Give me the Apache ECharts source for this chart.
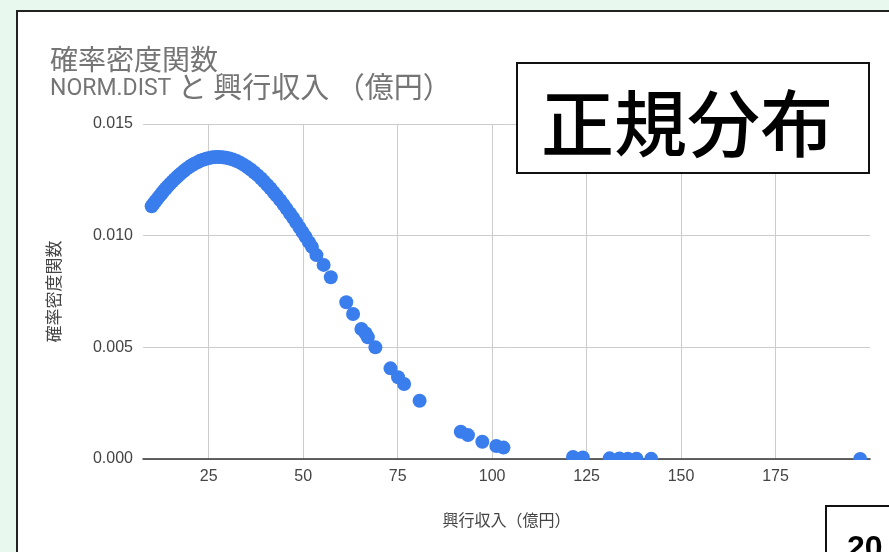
<!DOCTYPE html>
<html>
<head>
<meta charset="utf-8">
<script src="https://cdn.jsdelivr.net/npm/echarts@6/dist/echarts.min.js"></script>
<style>
  html, body { margin: 0; padding: 0; }
  body { width: 889px; height: 552px; background: #e9f8ee; position: relative; overflow: hidden; }
  #sheet { position: absolute; left: 16px; top: 10px; width: 920px; height: 600px;
           background: #fff; border: 2px solid #222; box-sizing: border-box; }
  #chart { position: absolute; left: 0; top: 0; width: 889px; height: 552px; }
</style>
</head>
<body>
<div id="sheet"></div>
<div id="chart"></div>
<script>
// 興行収入（億円）
const revenue = [
  9.9, 10.4, 10.9, 11.5, 12.0, 12.6, 13.1, 13.7, 14.2, 14.8,
  15.4, 16.0, 16.6, 17.2, 17.8, 18.5, 19.1, 19.8, 20.5, 21.2,
  22.0, 22.7, 23.5, 24.3, 25.1, 26.0, 26.9, 27.8, 28.7, 29.6,
  30.5, 31.4, 32.4, 33.3, 34.2, 35.2, 36.1, 37.0, 37.9, 38.8,
  39.6, 40.5, 41.3, 42.2, 43.0, 43.9, 44.8, 45.6, 46.5, 47.3,
  48.1, 49.0, 49.8, 50.6, 51.5, 52.3,
  53.5, 55.4, 57.3, 61.4, 63.2, 65.4, 66.5, 67.1, 69.1, 73.1,
  75.1, 76.7, 80.8, 91.7, 93.6, 97.4, 101.1, 103.0,
  121.4, 124.0, 131.1, 133.7, 135.9, 138.2, 142.1, 197.4
];

// NORM.DIST（確率密度関数）
const density = [
  0.01132, 0.01143, 0.01154, 0.01167, 0.01178, 0.01190, 0.01201, 0.01212, 0.01222, 0.01233,
  0.01243, 0.01253, 0.01263, 0.01272, 0.01281, 0.01291, 0.01299, 0.01307, 0.01315, 0.01322,
  0.01329, 0.01335, 0.01340, 0.01344, 0.01348, 0.01351, 0.01352, 0.01352, 0.01351, 0.01349,
  0.01345, 0.01341, 0.01334, 0.01327, 0.01318, 0.01307, 0.01296, 0.01284, 0.01271, 0.01257,
  0.01243, 0.01227, 0.01212, 0.01194, 0.01178, 0.01159, 0.01139, 0.01120, 0.01099, 0.01080,
  0.01060, 0.01037, 0.01016, 0.00995, 0.00971, 0.00950,
  0.00913, 0.00869, 0.00814, 0.00702, 0.00649, 0.00582, 0.00563, 0.00545, 0.00500, 0.00406,
  0.00366, 0.00336, 0.00261, 0.00122, 0.00107, 0.00077, 0.00058, 0.00051,
  0.00009, 0.00007, 0.00003, 0.00002, 0.000015, 0.00001, 0.000006, 0.0000001
];

const xTicks = [25, 50, 75, 100, 125, 150, 175];

const titleLine1 = '確率密度関数';
const titleLine2Latin = 'NORM.DIST';
const titleLine2Rest = ' と 興行収入 （億円）';
const xName = '興行収入（億円）';
const yName = '確率密度関数';
const badgeText = '正規分布';
const cornerText = '20';

const points = revenue.map((x, i) => [x, density[i]]);

const latin = "'Liberation Sans', Arial, 'Noto Sans CJK JP', sans-serif";
const titleLatin = "Roboto, 'Liberation Sans', Arial, sans-serif";
const cjk = "'Noto Sans CJK JP', 'Liberation Sans', sans-serif";

const chart = echarts.init(document.getElementById('chart'), null, { renderer: 'canvas' });

chart.setOption({
  backgroundColor: 'transparent',
  animation: false,
  title: {
    text: '{c|' + titleLine1 + '}\n{l|' + titleLine2Latin + '}{d|' + titleLine2Rest + '}',
    left: 45,
    top: 40,
    textStyle: {
      color: '#757575', fontWeight: 'normal', lineHeight: 28,
      rich: {
        c: { fontSize: 28, fontFamily: cjk, color: '#757575', lineHeight: 28, verticalAlign: 'bottom' },
        d: { fontSize: 29, fontFamily: cjk, color: '#757575', lineHeight: 28, verticalAlign: 'bottom' },
        l: { fontSize: 23, fontFamily: titleLatin, color: '#757575', lineHeight: 28, verticalAlign: 'bottom' }
      }
    }
  },
  grid: { left: 143, right: 19, top: 124, bottom: 93, containLabel: false },
  xAxis: {
    type: 'value',
    min: 7.6,
    max: 200,
    name: xName,
    nameLocation: 'middle',
    nameGap: 53,
    nameTextStyle: { color: '#444', fontSize: 16, fontFamily: cjk },
    axisLine: { show: true, onZero: false, lineStyle: { color: '#333', width: 1.5 } },
    axisTick: { show: false, customValues: xTicks },
    axisLabel: { customValues: xTicks, color: '#444', fontSize: 16, fontFamily: latin, margin: 10 },
    splitLine: { show: true, lineStyle: { color: '#cccccc', width: 1 } }
  },
  yAxis: {
    type: 'value',
    min: 0,
    max: 0.015,
    interval: 0.005,
    name: yName,
    nameLocation: 'middle',
    nameGap: 81,
    nameTextStyle: { color: '#444', fontSize: 17, fontFamily: cjk },
    axisLine: { show: false },
    axisTick: { show: false },
    axisLabel: { color: '#444', fontSize: 16, fontFamily: latin, margin: 10,
                 formatter: v => v.toFixed(3) },
    splitLine: { show: true, lineStyle: { color: '#cccccc', width: 1 } }
  },
  series: [{
    type: 'scatter',
    data: points,
    symbol: 'circle',
    symbolSize: 14,
    itemStyle: { color: '#3a7ded', opacity: 1 },
    z: 3
  }]
});

// Plot-area mask below the x axis (points on the baseline show only their upper half),
// label badge and the corner box overlapping the sheet.
const base = chart.convertToPixel({ gridIndex: 0 }, [7.6, 0]);
const right = chart.convertToPixel({ gridIndex: 0 }, [200, 0]);
chart.setOption({
  graphic: [
    {
      type: 'rect', z: 50,
      shape: { x: base[0], y: base[1] + 1, width: right[0] - base[0] + 8, height: 7 },
      style: { fill: '#ffffff' }
    },
    {
      type: 'rect', z: 60,
      shape: { x: 517, y: 63, width: 352, height: 110 },
      style: { fill: '#ffffff', stroke: '#111', lineWidth: 2 }
    },
    {
      type: 'text', z: 61,
      x: 687, y: 123,
      style: { text: badgeText, fill: '#000', font: "500 73px 'Noto Sans CJK JP', sans-serif",
               align: 'center', verticalAlign: 'middle' }
    },
    {
      type: 'rect', z: 60,
      shape: { x: 826, y: 506, width: 90, height: 70 },
      style: { fill: '#ffffff', stroke: '#111', lineWidth: 2 }
    },
    {
      type: 'text', z: 61,
      x: 847, y: 533,
      style: { text: cornerText, fill: '#000', font: "bold 32px 'Liberation Sans', Arial, sans-serif",
               align: 'left', verticalAlign: 'top' }
    }
  ]
});
</script>
</body>
</html>
